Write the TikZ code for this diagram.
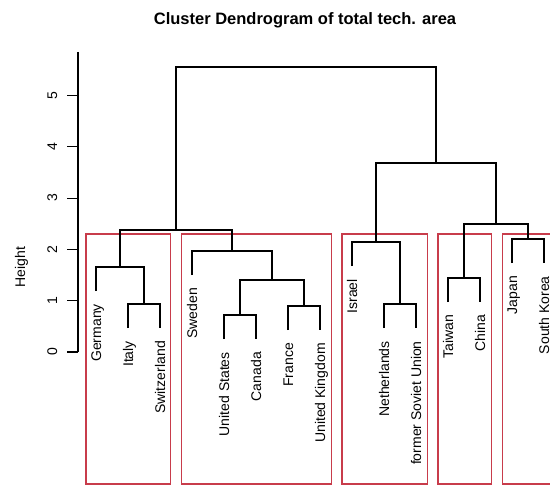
\documentclass[tikz,border=0pt]{standalone}
\usepackage{fontspec}
\setmainfont{Liberation Sans}
\definecolor{boxred}{RGB}{200,60,75}
\begin{document}
\begin{tikzpicture}[x=1pt,y=1pt,
  link/.style={draw=black, line width=1.1pt},
  cutbox/.style={draw=boxred, line width=1.1pt},
  leaflabel/.style={rotate=90, anchor=base east, inner sep=0pt, font=\fontsize{14}{16}\selectfont},
  ticklabel/.style={rotate=90, anchor=base, inner sep=0pt, font=\fontsize{14}{16}\selectfont},
  titlestyle/.style={anchor=base, inner sep=0pt, font=\fontsize{16.5}{19}\selectfont\bfseries}]
\useasboundingbox (0,0) rectangle (550,-487);
\fill[white] (0,0) rectangle (550,-487);

% title
\node[titlestyle] (title) at (305,-25) {Cluster Dendrogram of total tech. area};

% axis
\draw[link] (78,-52) -- (78,-352);
\foreach \h in {0,...,5}{
  \draw[link] (78,-352+51.3*\h) -- (67,-352+51.3*\h);
  \node[ticklabel] (tick\h) at (57,-352+51.3*\h) {\h};
}
\node[ticklabel] (ylab) at (25,-267) {Height};

% red cut boxes
\draw[cutbox] (86,-234) rectangle (170.5,-484);
\draw[cutbox] (181.5,-234) rectangle (331.5,-484);
\draw[cutbox] (342,-234) rectangle (427.5,-484);
\draw[cutbox] (438,-234) rectangle (491.5,-484);
\draw[cutbox] (551,-234) -- (502.5,-234) -- (502.5,-484) -- (551,-484);

% leaf ends
\coordinate (Germany) at (96,-291);
\coordinate (Italy) at (128,-328);
\coordinate (Switzerland) at (160,-328);
\coordinate (Sweden) at (192,-275);
\coordinate (US) at (224,-339);
\coordinate (Canada) at (256,-339);
\coordinate (France) at (288,-330);
\coordinate (UK) at (320,-330);
\coordinate (Israel) at (352,-266);
\coordinate (Netherlands) at (384,-328);
\coordinate (FSU) at (416,-328);
\coordinate (Taiwan) at (448,-302);
\coordinate (China) at (480,-302);
\coordinate (Japan) at (512,-263);
\coordinate (Korea) at (544,-263);

% leaf labels
\node[leaflabel] (lGermany) at ([shift={(5,-13)}]Germany) {Germany};
\node[leaflabel] (lItaly) at ([shift={(5,-13)}]Italy) {Italy};
\node[leaflabel] (lSwitzerland) at ([shift={(5,-13)}]Switzerland) {Switzerland};
\node[leaflabel] (lSweden) at ([shift={(5,-13)}]Sweden) {Sweden};
\node[leaflabel] (lUS) at ([shift={(5,-13)}]US) {United States};
\node[leaflabel] (lCanada) at ([shift={(5,-13)}]Canada) {Canada};
\node[leaflabel] (lFrance) at ([shift={(5,-13)}]France) {France};
\node[leaflabel] (lUK) at ([shift={(5,-13)}]UK) {United Kingdom};
\node[leaflabel] (lIsrael) at ([shift={(5,-13)}]Israel) {Israel};
\node[leaflabel] (lNetherlands) at ([shift={(5,-13)}]Netherlands) {Netherlands};
\node[leaflabel] (lFSU) at ([shift={(5,-13)}]FSU) {former Soviet Union};
\node[leaflabel] (lTaiwan) at ([shift={(5,-13)}]Taiwan) {Taiwan};
\node[leaflabel] (lChina) at ([shift={(5,-13)}]China) {China};
\node[leaflabel] (lJapan) at ([shift={(5,-13)}]Japan) {Japan};
\node[leaflabel] (lKorea) at ([shift={(5,-13)}]Korea) {South Korea};

% merge points
\coordinate (mIS) at (144,-304);
\coordinate (mGIS) at (120,-267);
\coordinate (mUC) at (240,-315);
\coordinate (mFU) at (304,-306);
\coordinate (mUCFU) at (272,-280);
\coordinate (mSW) at (232,-251);
\coordinate (mL) at (176,-230);
\coordinate (mNF) at (400,-304);
\coordinate (mIsr) at (376,-242);
\coordinate (mTC) at (464,-278);
\coordinate (mJK) at (528,-239);
\coordinate (mRR) at (496,-224);
\coordinate (mR) at (436,-163);
\coordinate (mTop) at (306,-67);

% links
\draw[link] (Italy) |- (mIS) -| (Switzerland);
\draw[link] (Germany) |- (mGIS) -| (mIS);
\draw[link] (US) |- (mUC) -| (Canada);
\draw[link] (France) |- (mFU) -| (UK);
\draw[link] (mUC) |- (mUCFU) -| (mFU);
\draw[link] (Sweden) |- (mSW) -| (mUCFU);
\draw[link] (mGIS) |- (mL) -| (mSW);
\draw[link] (Netherlands) |- (mNF) -| (FSU);
\draw[link] (Israel) |- (mIsr) -| (mNF);
\draw[link] (Taiwan) |- (mTC) -| (China);
\draw[link] (Japan) |- (mJK) -| (Korea);
\draw[link] (mTC) |- (mRR) -| (mJK);
\draw[link] (mIsr) |- (mR) -| (mRR);
\draw[link] (mL) |- (mTop) -| (mR);
\end{tikzpicture}
\end{document}
